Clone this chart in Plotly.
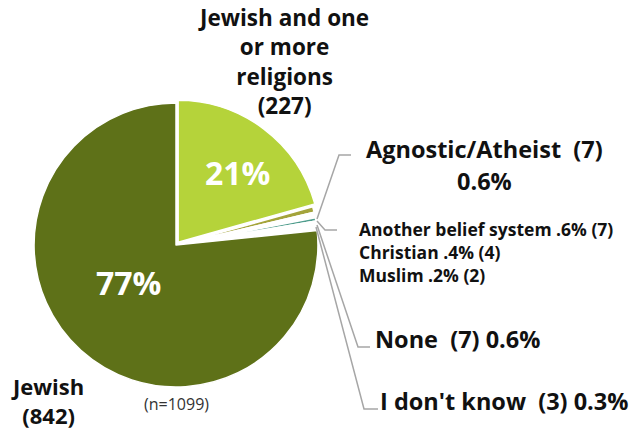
import plotly.graph_objects as go

W, H = 634, 432

labels = ["Jewish and one or more religions", "Agnostic/Atheist", "Another belief system",
          "Christian", "Muslim", "None", "I don't know", "Jewish"]
counts = [227, 7, 7, 4, 2, 7, 3, 842]
colors = ["#B5D33A", "#A4A43B", "#FFFFFF", "#4E9C8C", "#EBC733", "#FFFFFF", "#FFFFFF", "#5E7118"]
pulls = [0.025, 0, 0, 0, 0, 0, 0, 0]
total = sum(counts)

FONT = "'Open Sans', Lato, sans-serif"

def px(x):
    return x / W

def py(y):
    return 1 - y / H

fig = go.Figure()
cx, cy, r = 176, 245, 145.5
fig.add_trace(go.Pie(
    labels=labels, values=counts, sort=False, direction="clockwise", rotation=0,
    marker=dict(colors=colors, line=dict(color="white", width=1.5)),
    pull=pulls, textinfo="none", hoverinfo="label+value+percent",
    domain=dict(x=[px(cx - r), px(cx + r)], y=[py(cy + r), py(cy - r)]),
    showlegend=False,
))

def pct(v):
    return f"{round(v / total * 100)}%"

ann = []
def add(text, x, y, size, xanchor="center", yanchor="middle", color="#111111", bold=True):
    ann.append(dict(text=(f"<b>{text}</b>" if bold else text), x=px(x), y=py(y),
                    xref="paper", yref="paper", xanchor=xanchor, yanchor=yanchor,
                    showarrow=False, font=dict(family=FONT, size=size, color=color)))

# in-slice percentages
add(pct(counts[0]), 237, 172, 32, color="white")
add(pct(counts[7]), 128, 282, 32, color="white")

# outer labels
BIG = 23.5
SMALL = 17.5
add(f"Jewish and one<br>or more<br>religions<br>({counts[0]})", 283, 62, 22.5)
add(f"Agnostic/Atheist  ({counts[1]})", 484, 149, BIG)
add("0.6%", 484, 181, BIG)
add(f"Another belief system .6% ({counts[2]})", 357, 229, SMALL, xanchor="left")
add(f"Christian .4% ({counts[3]})", 357, 252, SMALL, xanchor="left")
add(f"Muslim .2% ({counts[4]})", 357, 275, SMALL, xanchor="left")
add(f"None  ({counts[5]}) 0.6%", 373, 339, BIG, xanchor="left")
add(f"I don't know  ({counts[6]}) 0.3%", 378, 401, BIG, xanchor="left")
add(f"Jewish<br>({counts[7]})", 47, 432, 22, yanchor="bottom")
add(f"(n={total})", 176, 404, 16, color="#333333", bold=False)

def path(points):
    d = "M " + " L ".join(f"{px(x)},{py(y)}" for x, y in points)
    return dict(type="path", path=d, xref="paper", yref="paper",
                line=dict(color="#A6A6A6", width=1.5))

shapes = [
    path([(351, 155), (339, 155), (317, 219)]),
    path([(317, 221), (325, 230), (337, 230)]),
    path([(317, 225), (358, 347), (370, 347)]),
    path([(316, 227), (364, 409), (378, 409)]),
]

fig.update_layout(width=W, height=H, margin=dict(l=0, r=0, t=0, b=0),
                  paper_bgcolor="white", plot_bgcolor="white",
                  annotations=ann, shapes=shapes)
fig.write_html("out.html", config={"displayModeBar": False},
               post_script="document.body.style.margin='0';")
